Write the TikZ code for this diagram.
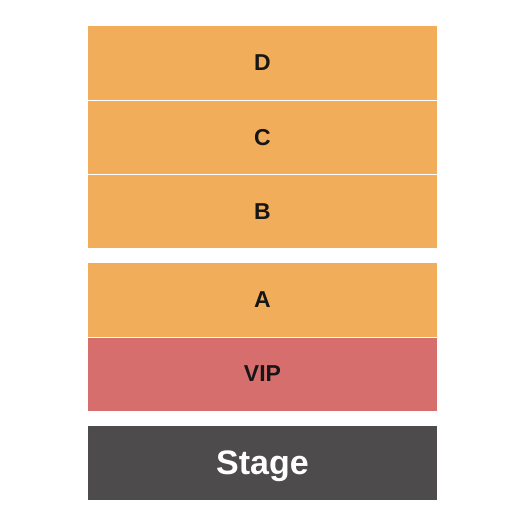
\documentclass[tikz,border=0pt]{standalone}
\usepackage{fontspec}
\setmainfont{Liberation Sans}
\definecolor{seatorange}{HTML}{F2AD5B}
\definecolor{viprose}{HTML}{D76E6E}
\definecolor{stagegrey}{HTML}{4D4B4C}
\definecolor{labelink}{HTML}{161616}
\tikzset{
    section/.style={fill=#1, minimum width=349pt, minimum height=73.5pt, inner sep=0pt,
        text depth=0pt, text=labelink, font=\fontsize{23}{26}\selectfont\bfseries},
}

\begin{document}
\begin{tikzpicture}[x=1pt,y=-1pt]
        \useasboundingbox[fill=white] (0,0) rectangle (525,525);
        \node[section=seatorange] (secD) at (262.5,62.75) {D};
        \node[section=seatorange] (secC) at (262.5,137.25) {C};
        \node[section=seatorange, minimum height=73pt] (secB) at (262.5,211.5) {B};
        \node[section=seatorange] (secA) at (262.5,299.75) {A};
        \node[section=viprose, minimum height=73pt] (vip) at (262.5,374) {VIP};
        \node[section=stagegrey, text=white, font=\fontsize{34}{38}\selectfont\bfseries] (stage) at (262.5,462.75) {Stage};
    \end{tikzpicture}
\end{document}
